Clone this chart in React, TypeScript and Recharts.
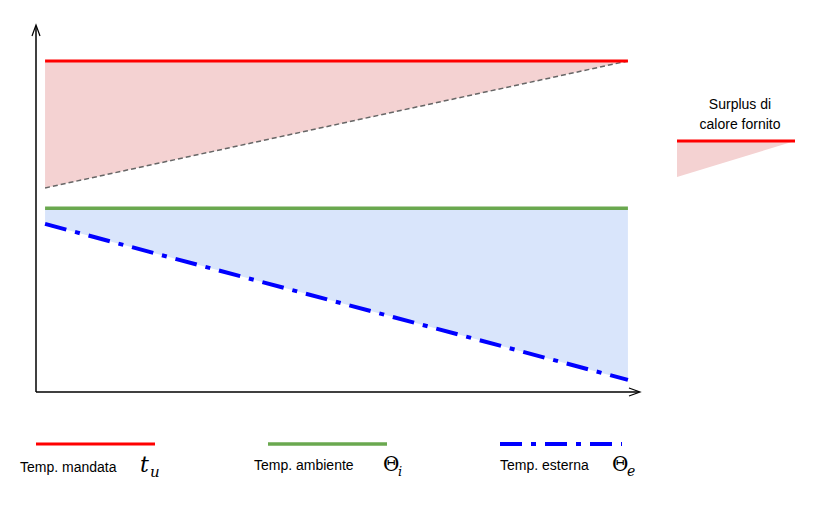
import React from "react";
import { ComposedChart, Line, Area, XAxis, YAxis } from "recharts";

const xs = [1.5, 98];
const mandata = [90.2, 90.2];
const surplusLow = [55.6, 90.2];
const ambiente = [50.1, 50.1];
const esterna = [45.8, 3.3];
const legendLabels = ["Temp. mandata", "Temp. ambiente", "Temp. esterna"];
const surplusLabel = ["Surplus di", "calore fornito"];

const data = xs.map((x, i) => ({
  x,
  mandata: mandata[i],
  low: surplusLow[i],
  surplus: [surplusLow[i], mandata[i]],
  ambiente: ambiente[i],
  esterna: esterna[i],
  cold: [esterna[i], ambiente[i]],
}));

const font = "'Liberation Sans', Arial, sans-serif";
const mathFont = "'DejaVu Serif', serif";

export default function App() {
  return (
    <div style={{ position: "absolute", left: 0, top: 0, width: 816, height: 505, background: "#fff", fontFamily: font }}>
      <ComposedChart width={816} height={505} data={data} margin={{ top: 25, right: 176, bottom: 113, left: 36 }}>
        <XAxis type="number" dataKey="x" domain={[0, 100]} hide />
        <YAxis type="number" domain={[0, 100]} hide />
        <Area dataKey="surplus" type="linear" fill="#f4d2d2" fillOpacity={1} stroke="none" isAnimationActive={false} />
        <Area dataKey="cold" type="linear" fill="#d9e5fb" fillOpacity={1} stroke="none" isAnimationActive={false} />
        <Line dataKey="low" type="linear" stroke="#666" strokeWidth={1.5} strokeDasharray="5 3" dot={false} isAnimationActive={false} />
        <Line dataKey="mandata" type="linear" stroke="#ff0000" strokeWidth={3} dot={false} isAnimationActive={false} />
        <Line dataKey="ambiente" type="linear" stroke="#6aa84f" strokeWidth={3.5} dot={false} isAnimationActive={false} />
        <Line dataKey="esterna" type="linear" stroke="#0000ff" strokeWidth={4} strokeDasharray="22 9 5 9" dot={false} isAnimationActive={false} />
      </ComposedChart>
      <svg width={816} height={505} style={{ position: "absolute", left: 0, top: 0, pointerEvents: "none" }}>
        <line x1={36} y1={392} x2={36} y2={26} stroke="#000" strokeWidth={1.5} />
        <line x1={36} y1={392} x2={639} y2={392} stroke="#000" strokeWidth={1.5} />
        <path d="M32 36 L36 25 L40 36" fill="none" stroke="#000" strokeWidth={1.2} />
        <path d="M629 388 L640 392 L629 396" fill="none" stroke="#000" strokeWidth={1.2} />
        <text x={740} y={109} textAnchor="middle" fontSize={14} fontFamily={font}>{surplusLabel[0]}</text>
        <text x={740} y={129} textAnchor="middle" fontSize={14} fontFamily={font}>{surplusLabel[1]}</text>
        <polygon points="677,141 795,141 677,177" fill="#f4d2d2" />
        <line x1={677} y1={141} x2={795} y2={141} stroke="#ff0000" strokeWidth={3} />
        <line x1={36} y1={444} x2={155} y2={444} stroke="#ff0000" strokeWidth={3} />
        <line x1={268} y1={444} x2={387} y2={444} stroke="#6aa84f" strokeWidth={3.5} />
        <line x1={500} y1={444} x2={622} y2={444} stroke="#0000ff" strokeWidth={4} strokeDasharray="22 9 5 9" />
        <text x={20} y={472} fontSize={14} fontFamily={font}>{legendLabels[0]}</text>
        <text x={140} y={472} fontSize={22} fontStyle="italic" fontFamily={mathFont}>t</text>
        <text x={150} y={477} fontSize={15} fontStyle="italic" fontFamily={mathFont}>u</text>
        <text x={254} y={470} fontSize={14} fontFamily={font}>{legendLabels[1]}</text>
        <text x={383} y={471} fontSize={20} fontFamily={mathFont}>Θ</text>
        <text x={398} y={476} fontSize={13} fontStyle="italic" fontFamily={mathFont}>i</text>
        <text x={500} y={470} fontSize={14} fontFamily={font}>{legendLabels[2]}</text>
        <text x={612} y={471} fontSize={20} fontFamily={mathFont}>Θ</text>
        <text x={627} y={476} fontSize={14} fontStyle="italic" fontFamily={mathFont}>e</text>
      </svg>
    </div>
  );
}
